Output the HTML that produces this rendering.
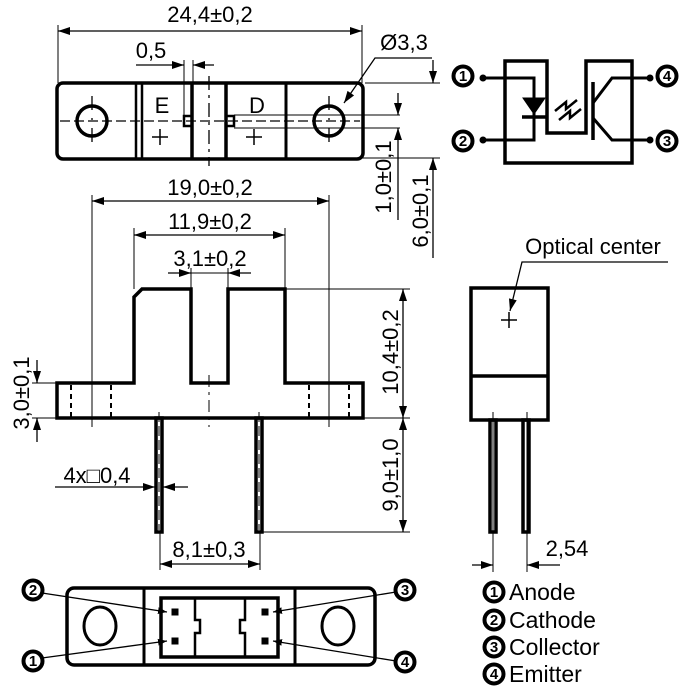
<!DOCTYPE html>
<html><head><meta charset="utf-8"><style>
html,body{margin:0;padding:0;background:#fff}
svg{display:block}
text{font-family:"Liberation Sans",Arial,sans-serif;fill:#000}
</style></head><body>
<svg width="682" height="692" viewBox="0 0 682 692" xmlns="http://www.w3.org/2000/svg">
<defs>
<marker id="a" viewBox="0 0 12 8" refX="12" refY="4" markerWidth="13" markerHeight="8" markerUnits="userSpaceOnUse" orient="auto"><path d="M0,0 L12,4 L0,8 z" fill="#000"/></marker>
<marker id="s" viewBox="0 0 8 6" refX="8" refY="3" markerWidth="9" markerHeight="7" markerUnits="userSpaceOnUse" orient="auto"><path d="M0,0 L8,3 L0,6 z" fill="#000"/></marker>
</defs>
<g stroke="#000" fill="none">
<rect x="57" y="83" width="306" height="76" rx="6" stroke-width="3.5"/>
<line x1="136" y1="83" x2="136" y2="159" stroke-width="2.5"/>
<line x1="142" y1="83" x2="142" y2="159" stroke-width="2.5"/>
<line x1="192" y1="83" x2="192" y2="159" stroke-width="3.5"/>
<line x1="226" y1="83" x2="226" y2="159" stroke-width="3.5"/>
<line x1="286" y1="83" x2="286" y2="159" stroke-width="3"/>
<circle cx="92" cy="121" r="15" stroke-width="3.5"/>
<circle cx="329" cy="121" r="15" stroke-width="3.5"/>
<line x1="60" y1="121" x2="360" y2="121" stroke-width="1.3" stroke-dasharray="10,4"/>
<line x1="92" y1="96" x2="92" y2="150" stroke-width="1.3" stroke-dasharray="14,8,2,8"/>
<line x1="329" y1="96" x2="329" y2="150" stroke-width="1.3" stroke-dasharray="14,8,2,8"/>
<line x1="209" y1="76" x2="209" y2="166" stroke-width="1.3" stroke-dasharray="14,5,3,5"/>
<rect x="184" y="116" width="8" height="10" stroke-width="2.5"/>
<rect x="226" y="116" width="8" height="10" stroke-width="2.5"/>
<line x1="234" y1="115" x2="400" y2="115" stroke-width="1"/>
<line x1="234" y1="128" x2="400" y2="128" stroke-width="1"/>
<path d="M152,137 h16 M160,129 v16 M246,137 h16 M254,129 v16" stroke-width="1.5"/>
<line x1="58" y1="25" x2="58" y2="83" stroke-width="1"/>
<line x1="362" y1="25" x2="362" y2="83" stroke-width="1"/>
<line x1="70" y1="31" x2="58" y2="31" stroke-width="1.3" marker-end="url(#a)"/>
<line x1="70" y1="31" x2="362" y2="31" stroke-width="1.3" marker-end="url(#a)"/>
<line x1="184" y1="60" x2="184" y2="116" stroke-width="1"/>
<line x1="193" y1="60" x2="193" y2="116" stroke-width="1"/>
<line x1="136" y1="65" x2="184" y2="65" stroke-width="1.3" marker-end="url(#a)"/>
<line x1="214" y1="65" x2="193" y2="65" stroke-width="1.3" marker-end="url(#a)"/>
<polyline points="432,58 375,58 344,103" stroke-width="1.3" marker-end="url(#a)"/>
<line x1="365" y1="83" x2="440" y2="83" stroke-width="1"/>
<line x1="362" y1="158" x2="440" y2="158" stroke-width="1"/>
<line x1="433" y1="60" x2="433" y2="83" stroke-width="1.3" marker-end="url(#a)"/>
<line x1="433" y1="258" x2="433" y2="158" stroke-width="1.3" marker-end="url(#a)"/>
<line x1="398" y1="93" x2="398" y2="115" stroke-width="1.3" marker-end="url(#a)"/>
<line x1="398" y1="220" x2="398" y2="128" stroke-width="1.3" marker-end="url(#a)"/>

<path d="M505,61 H547 V133 H586 V61 H632 V163 H505 Z" stroke-width="3.5"/>
<circle cx="463" cy="76" r="9.5" stroke-width="4"/>
<circle cx="463" cy="141" r="9.5" stroke-width="4"/>
<circle cx="667" cy="76" r="9.5" stroke-width="4"/>
<circle cx="667" cy="141" r="9.5" stroke-width="4"/>
<polyline points="483,78 534,78 534,140 483,140" stroke-width="3"/>
<path d="M523,98 L545,98 L534,114 Z" fill="#000" stroke-width="1"/>
<line x1="522" y1="117" x2="546" y2="117" stroke-width="3.5"/>
<line x1="593" y1="82" x2="593" y2="140" stroke-width="3.5"/>
<polyline points="593,103 612,78 650,78" stroke-width="3"/>
<polyline points="593,118 612,140 650,140" stroke-width="3"/>
<path d="M555,111 l11,-9 v7 l11,-9 M559,120 l11,-9 v7 l11,-9" stroke-width="2.5"/>
<circle cx="483" cy="78" r="3" fill="#000"/><circle cx="483" cy="140" r="3" fill="#000"/>
<circle cx="650" cy="78" r="3" fill="#000"/><circle cx="650" cy="140" r="3" fill="#000"/>

<path d="M57,383 H134 V297 L142,289 H191 V383 H228 V289 H285 V383 H363 V418 H57 Z" stroke-width="3.5"/>
<path d="M71,385 v33 M111,385 v33 M309,385 v33 M349,385 v33" stroke-width="2" stroke-dasharray="5,4"/>
<line x1="92" y1="195" x2="92" y2="427" stroke-width="1"/>
<line x1="329" y1="195" x2="329" y2="427" stroke-width="1"/>
<line x1="209" y1="375" x2="209" y2="427" stroke-width="1" stroke-dasharray="12,5,3,5"/>
<rect x="156" y="418" width="6" height="114" stroke-width="3.5"/>
<rect x="256" y="418" width="6" height="114" stroke-width="3.5"/>
<line x1="159" y1="412" x2="159" y2="530" stroke-width="1" stroke-dasharray="10,4"/>
<line x1="259" y1="412" x2="259" y2="530" stroke-width="1" stroke-dasharray="10,4"/>
<line x1="110" y1="201" x2="92" y2="201" stroke-width="1.3" marker-end="url(#a)"/>
<line x1="110" y1="201" x2="329" y2="201" stroke-width="1.3" marker-end="url(#a)"/>
<line x1="134" y1="228" x2="134" y2="289" stroke-width="1"/>
<line x1="285" y1="228" x2="285" y2="289" stroke-width="1"/>
<line x1="150" y1="235" x2="134" y2="235" stroke-width="1.3" marker-end="url(#a)"/>
<line x1="150" y1="235" x2="285" y2="235" stroke-width="1.3" marker-end="url(#a)"/>
<line x1="191" y1="268" x2="191" y2="289" stroke-width="1"/>
<line x1="228" y1="268" x2="228" y2="289" stroke-width="1"/>
<line x1="168" y1="273" x2="228" y2="273" stroke-width="1"/>
<line x1="168" y1="273" x2="191" y2="273" stroke-width="1.3" marker-end="url(#a)"/>
<line x1="251" y1="273" x2="228" y2="273" stroke-width="1.3" marker-end="url(#a)"/>
<line x1="285" y1="289" x2="410" y2="289" stroke-width="1"/>
<line x1="363" y1="418" x2="410" y2="418" stroke-width="1"/>
<line x1="262" y1="532" x2="410" y2="532" stroke-width="1"/>
<line x1="403" y1="340" x2="403" y2="289" stroke-width="1.3" marker-end="url(#a)"/>
<line x1="403" y1="340" x2="403" y2="418" stroke-width="1.3" marker-end="url(#a)"/>
<line x1="403" y1="470" x2="403" y2="418" stroke-width="1.3" marker-end="url(#a)"/>
<line x1="403" y1="470" x2="403" y2="532" stroke-width="1.3" marker-end="url(#a)"/>
<line x1="32" y1="383" x2="57" y2="383" stroke-width="1"/>
<line x1="32" y1="418" x2="57" y2="418" stroke-width="1"/>
<line x1="37" y1="360" x2="37" y2="383" stroke-width="1.3" marker-end="url(#a)"/>
<line x1="37" y1="442" x2="37" y2="418" stroke-width="1.3" marker-end="url(#a)"/>
<line x1="55" y1="487" x2="155" y2="487" stroke-width="1.3" marker-end="url(#a)"/>
<line x1="188" y1="487" x2="163" y2="487" stroke-width="1.3" marker-end="url(#a)"/>
<line x1="160" y1="532" x2="160" y2="570" stroke-width="1"/>
<line x1="260" y1="532" x2="260" y2="570" stroke-width="1"/>
<line x1="180" y1="564" x2="160" y2="564" stroke-width="1.3" marker-end="url(#a)"/>
<line x1="180" y1="564" x2="260" y2="564" stroke-width="1.3" marker-end="url(#a)"/>

<rect x="471" y="288" width="77" height="132" stroke-width="3.5"/>
<line x1="471" y1="376" x2="548" y2="376" stroke-width="3.5"/>
<rect x="490" y="420" width="6" height="112" stroke-width="3.5"/>
<rect x="523" y="420" width="6" height="112" stroke-width="3.5"/>
<line x1="493" y1="422" x2="493" y2="530" stroke-width="1" stroke="#fff" stroke-dasharray="8,6"/>
<line x1="526" y1="422" x2="526" y2="530" stroke-width="1" stroke="#fff" stroke-dasharray="8,6"/>
<line x1="493" y1="412" x2="493" y2="572" stroke-width="1"/>
<line x1="527" y1="412" x2="527" y2="572" stroke-width="1"/>
<path d="M501,320 h16 M509,312 v16" stroke-width="1.5"/>
<polyline points="668,262 522,262 510,311" stroke-width="1.3" marker-end="url(#a)"/>
<line x1="472" y1="565" x2="493" y2="565" stroke-width="1.3" marker-end="url(#a)"/>
<line x1="560" y1="565" x2="527" y2="565" stroke-width="1.3" marker-end="url(#a)"/>

<rect x="67" y="588" width="308" height="77" rx="7" stroke-width="3.5"/>
<line x1="144" y1="588" x2="144" y2="665" stroke-width="3"/>
<line x1="295" y1="588" x2="295" y2="665" stroke-width="3"/>
<rect x="161" y="598" width="117" height="59" stroke-width="3.5"/>
<path d="M195,598 V620 H200 V633 H195 V657" stroke-width="2.5"/>
<path d="M245,598 V620 H240 V633 H245 V657" stroke-width="2.5"/>
<ellipse cx="100" cy="626" rx="16" ry="19" stroke-width="3"/>
<ellipse cx="338" cy="626" rx="16" ry="19" stroke-width="3"/>
<rect x="172" y="609" width="6" height="6" fill="#000" stroke-width="1"/>
<rect x="172" y="638" width="6" height="6" fill="#000" stroke-width="1"/>
<rect x="262" y="609" width="6" height="6" fill="#000" stroke-width="1"/>
<rect x="262" y="638" width="6" height="6" fill="#000" stroke-width="1"/>
<line x1="42" y1="593" x2="167" y2="612" stroke-width="1.3" marker-end="url(#s)"/>
<line x1="42" y1="658" x2="167" y2="641" stroke-width="1.3" marker-end="url(#s)"/>
<line x1="396" y1="592" x2="273" y2="612" stroke-width="1.3" marker-end="url(#s)"/>
<line x1="396" y1="661" x2="273" y2="641" stroke-width="1.3" marker-end="url(#s)"/>
<circle cx="33" cy="590" r="9.5" stroke-width="4" fill="#fff"/>
<circle cx="33" cy="661" r="9.5" stroke-width="4" fill="#fff"/>
<circle cx="405" cy="590" r="9.5" stroke-width="4" fill="#fff"/>
<circle cx="405" cy="662" r="9.5" stroke-width="4" fill="#fff"/>
<circle cx="494" cy="592" r="9.5" stroke-width="4"/>
<circle cx="494" cy="620" r="9.5" stroke-width="4"/>
<circle cx="494" cy="647" r="9.5" stroke-width="4"/>
<circle cx="494" cy="674" r="9.5" stroke-width="4"/>
</g>

<g font-size="22">
<text x="210" y="22" text-anchor="middle">24,4±0,2</text>
<text x="151" y="58" text-anchor="middle">0,5</text>
<text x="404" y="50" text-anchor="middle">Ø3,3</text>
<text x="162" y="113" text-anchor="middle">E</text>
<text x="257" y="113" text-anchor="middle">D</text>
<text x="210" y="195" text-anchor="middle">19,0±0,2</text>
<text x="210" y="229" text-anchor="middle">11,9±0,2</text>
<text x="210" y="266" text-anchor="middle">3,1±0,2</text>
<text x="97" y="483" text-anchor="middle">4x□0,4</text>
<text x="209" y="557" text-anchor="middle">8,1±0,3</text>
<text x="567" y="556" text-anchor="middle">2,54</text>
<text x="593" y="254" text-anchor="middle">Optical center</text>
<text transform="translate(391,177) rotate(-90)" text-anchor="middle">1,0±0,1</text>
<text transform="translate(428,211) rotate(-90)" text-anchor="middle">6,0±0,1</text>
<text transform="translate(398,352) rotate(-90)" text-anchor="middle">10,4±0,2</text>
<text transform="translate(398,475) rotate(-90)" text-anchor="middle">9,0±1,0</text>
<text transform="translate(29,393) rotate(-90)" text-anchor="middle">3,0±0,1</text>
</g>
<g font-size="23">
<text x="509" y="600">Anode</text>
<text x="509" y="628">Cathode</text>
<text x="509" y="655">Collector</text>
<text x="509" y="682">Emitter</text>
</g>
<g font-size="15" font-weight="bold" text-anchor="middle">
<text x="463" y="81">1</text><text x="463" y="146">2</text>
<text x="667" y="81">4</text><text x="667" y="146">3</text>
<text x="33" y="595">2</text><text x="33" y="666">1</text>
<text x="405" y="595">3</text><text x="405" y="667">4</text>
<text x="494" y="597">1</text><text x="494" y="625">2</text>
<text x="494" y="652">3</text><text x="494" y="679">4</text>
</g>
</svg>
</body></html>
